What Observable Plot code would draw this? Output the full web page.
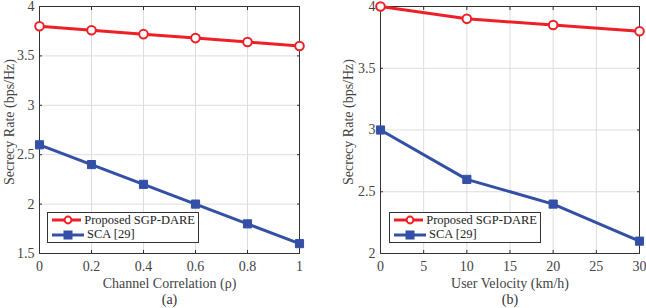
<!DOCTYPE html>
<html><head><meta charset="utf-8">
<script src="https://cdn.jsdelivr.net/npm/d3@7"></script>
<script src="https://cdn.jsdelivr.net/npm/@observablehq/plot@0.6"></script>
<style>
body{margin:0;background:#fff;font-family:"Liberation Serif",serif;}
#wrap{position:relative;width:646px;height:308px;}
.panel{position:absolute;top:0;}
.legend{position:absolute;background:#fff;border:1px solid #333;font:12.5px "Liberation Serif",serif;color:#222;padding:0 3px 0 4px;box-sizing:border-box;width:152px;height:31px;display:flex;flex-direction:column;justify-content:center;}
.legend div{display:flex;align-items:center;height:14.5px;white-space:nowrap;}
.legend svg{margin-right:3px;}
</style></head><body>
<div id="wrap"></div>
<script>
const rhoX = [0, 0.2, 0.4, 0.6, 0.8, 1];
const rhoProposed = [3.8, 3.76, 3.72, 3.68, 3.64, 3.6];
const rhoSCA = [2.6, 2.4, 2.2, 2.0, 1.8, 1.6];
const velX = [0, 10, 20, 30];
const velProposed = [4.0, 3.9, 3.85, 3.8];
const velSCA = [3.0, 2.6, 2.4, 2.1];
const seriesNames = ["Proposed SGP-DARE", "SCA [29]"];
const yLabel = "Secrecy Rate (bps/Hz)";
const RED = "#ee1f27", BLUE = "#3350a6";

function panel(xs, a, b, opts) {
  const dA = xs.map((x, i) => ({x, y: a[i]}));
  const dB = xs.map((x, i) => ({x, y: b[i]}));
  const fs = 14;
  return Plot.plot({
    width: 323, height: 308,
    marginTop: 6, marginBottom: 55, marginLeft: opts.ml, marginRight: opts.mr,
    style: {fontFamily: "Liberation Serif, serif", fontSize: "14px", color: "#333", background: "#fff"},
    x: {domain: opts.xd, ticks: opts.xt},
    y: {domain: opts.yd, ticks: opts.yt},
    marks: [
      Plot.gridX({ticks: opts.xt, stroke: "#ddd", strokeOpacity: 1}),
      Plot.gridY({ticks: opts.yt, stroke: "#ddd", strokeOpacity: 1}),
      Plot.axisX({ticks: opts.xt, tickSize: 0, tickPadding: 8, label: opts.xl, labelAnchor: "center", labelArrow: "none", labelOffset: 34, tickFormat: d => String(d), fill: "#444", fontSize: fs}),
      Plot.axisY({ticks: opts.yt, tickSize: 0, tickPadding: 5, label: null, tickFormat: d => String(d), fill: "#444", fontSize: fs}),
      Plot.text([yLabel], {frameAnchor: "left", textAnchor: "middle", dx: -opts.lo, dy: -8, rotate: -90, text: d => d, fontSize: 14, fill: "#444"}),
      Plot.axisX({ticks: opts.xt, tickSize: -3, text: null, label: null, stroke: "#333"}),
      Plot.axisX({ticks: opts.xt, anchor: "top", tickSize: -3, text: null, label: null, stroke: "#333"}),
      Plot.axisY({ticks: opts.yt, tickSize: -3, text: null, label: null, stroke: "#333"}),
      Plot.axisY({ticks: opts.yt, anchor: "right", tickSize: -3, text: null, label: null, stroke: "#333"}),
      Plot.frame({stroke: "#333", strokeWidth: 1}),
      Plot.line(dB, {x: "x", y: "y", stroke: BLUE, strokeWidth: 3}),
      Plot.dot(dB, {x: "x", y: "y", symbol: "square", r: 4.6, fill: BLUE, stroke: BLUE, strokeWidth: 1}),
      Plot.line(dA, {x: "x", y: "y", stroke: RED, strokeWidth: 3}),
      Plot.dot(dA, {x: "x", y: "y", symbol: "circle", r: 4.3, fill: "#fff", stroke: RED, strokeWidth: 2}),
      Plot.text([opts.cap], {frameAnchor: "bottom", dy: 50, text: d => d, fontSize: fs, fill: "#333"})
    ]
  });
}

const wrap = document.getElementById("wrap");
function place(node, left) {
  const d = document.createElement("div");
  d.className = "panel"; d.style.left = left + "px";
  d.appendChild(node); wrap.appendChild(d);
}
function legend(left, top) {
  const L = document.createElement("div");
  L.className = "legend";
  L.style.left = left + "px"; L.style.top = top + "px";
  const sym = [
    `<svg width="32" height="12"><line x1="0" y1="6" x2="32" y2="6" stroke="${RED}" stroke-width="3"/><circle cx="16" cy="6" r="3.4" fill="#fff" stroke="${RED}" stroke-width="2"/></svg>`,
    `<svg width="32" height="12"><line x1="0" y1="6" x2="32" y2="6" stroke="${BLUE}" stroke-width="3"/><rect x="11.5" y="1.5" width="9" height="9" fill="${BLUE}"/></svg>`
  ];
  seriesNames.forEach((n, i) => {
    const r = document.createElement("div");
    r.innerHTML = sym[i] + `<span>${n}</span>`;
    L.appendChild(r);
  });
  wrap.appendChild(L);
}

place(panel(rhoX, rhoProposed, rhoSCA, {
  ml: 39, mr: 24, xd: [0, 1], yd: [1.5, 4], xt: rhoX, yt: [1.5, 2, 2.5, 3, 3.5, 4],
  xl: "Channel Correlation (ρ)", lo: 30, cap: "(a)"
}), 0);
place(panel(velX, velProposed, velSCA, {
  ml: 57, mr: 7, xd: [0, 30], yd: [2, 4], xt: [0, 5, 10, 15, 20, 25, 30], yt: [2, 2.5, 3, 3.5, 4],
  xl: "User Velocity (km/h)", lo: 32, cap: "(b)"
}), 323);
legend(47, 212);
legend(389, 212);
</script>
</body></html>
